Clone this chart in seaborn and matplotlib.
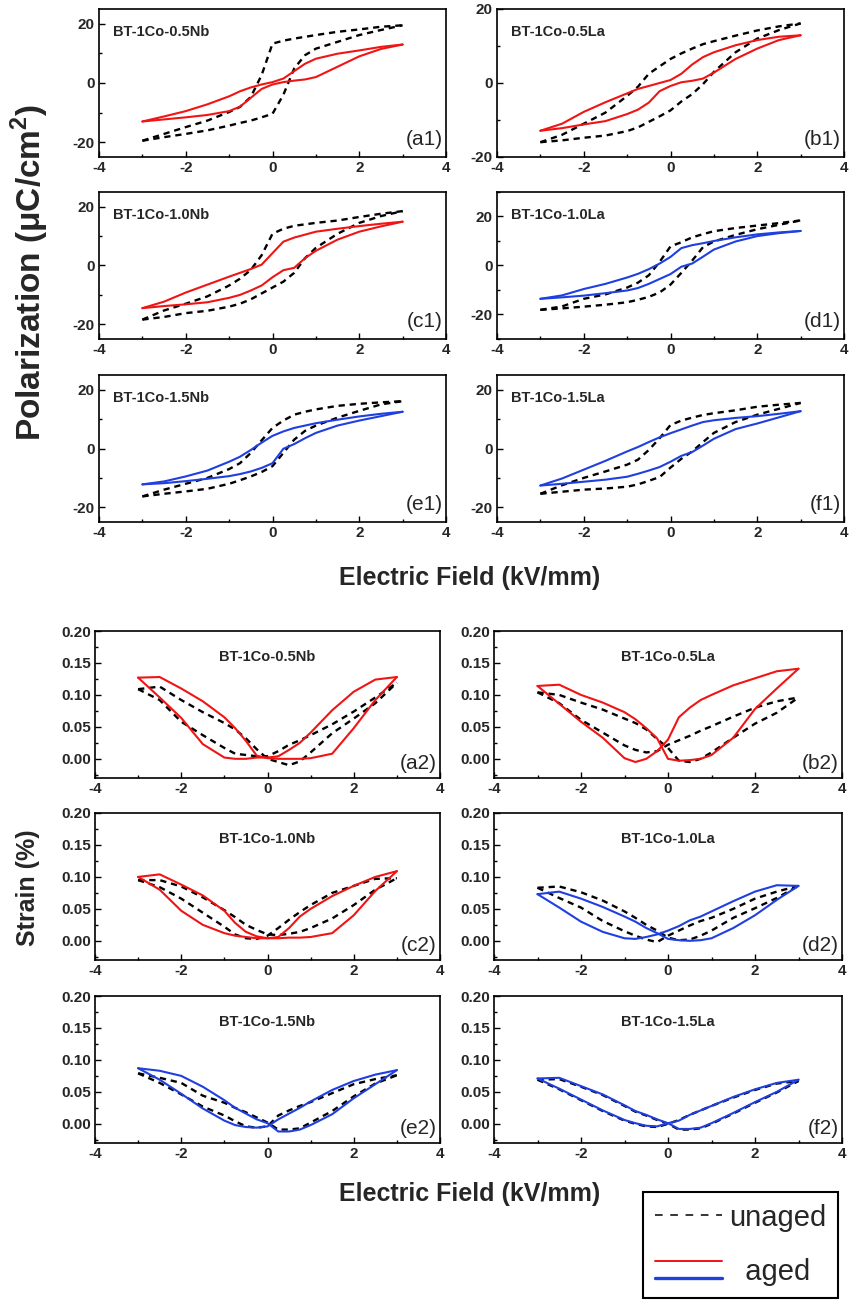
import matplotlib
matplotlib.use('Agg')
import matplotlib.pyplot as plt
import seaborn as sns
from matplotlib.lines import Line2D
from matplotlib.legend_handler import HandlerBase
from matplotlib.ticker import MultipleLocator, FormatStrFormatter

# Campo eléctrico (kV/mm), rejilla común a todas las curvas
E = [-3, -2.5, -2, -1.5, -1, -0.75, -0.5, -0.25, 0, 0.25, 0.5, 0.75, 1, 1.5, 2, 2.5, 3]

# Lazos P-E (uC/cm2): rama superior / rama inferior
pe_a1_unaged_up = [-19.5, -17.2, -14.9, -12.7, -9.8, -8.1, -4.7, 2.7, 13.3, 14.3, 15.0, 15.6, 16.2, 17.3, 18.1, 19.0, 19.5]
pe_a1_unaged_lo = [-19.5, -18.3, -17.2, -16.0, -14.4, -13.5, -12.7, -11.6, -10.4, -4.0, 4.9, 9.4, 11.6, 13.9, 16.2, 17.9, 19.5]
pe_a1_aged_up = [-13.0, -11.3, -9.5, -7.2, -4.5, -2.8, -1.5, -0.5, 0.3, 1.5, 4.0, 6.5, 8.2, 9.9, 11.0, 12.2, 13.0]
pe_a1_aged_lo = [-13.0, -12.3, -11.6, -10.8, -9.5, -8.0, -5.0, -2.0, -0.5, 0.3, 0.8, 1.2, 2.0, 5.5, 9.0, 11.5, 13.0]

pe_b1_unaged_up = [-16.0, -14.0, -11.0, -8.0, -3.5, -1.0, 2.5, 4.5, 6.5, 8.0, 9.3, 10.5, 11.3, 12.8, 14.2, 15.3, 16.1]
pe_b1_unaged_lo = [-16.0, -15.5, -14.8, -14.2, -13.0, -12.0, -10.5, -9.0, -7.4, -5.0, -3.0, -0.3, 3.0, 8.3, 12.0, 14.3, 16.1]
pe_b1_aged_up = [-12.9, -11.0, -7.8, -5.2, -2.8, -1.6, -0.8, 0.0, 0.8, 2.5, 5.0, 7.0, 8.3, 10.2, 11.6, 12.5, 12.9]
pe_b1_aged_lo = [-12.9, -12.2, -11.2, -10.3, -8.4, -7.2, -5.3, -2.2, -0.8, 0.2, 0.6, 1.2, 2.8, 6.5, 9.3, 11.6, 12.9]

pe_c1_unaged_up = [-18.4, -15.3, -13.0, -10.5, -6.8, -4.5, -1.5, 3.5, 10.8, 12.5, 13.5, 14.0, 14.5, 15.3, 16.5, 17.6, 18.5]
pe_c1_unaged_lo = [-18.4, -17.5, -16.2, -15.4, -14.0, -13.0, -11.5, -9.5, -7.5, -5.5, -2.5, 2.5, 6.0, 10.8, 14.5, 16.8, 18.5]
pe_c1_aged_up = [-14.5, -12.3, -9.2, -6.5, -3.8, -2.5, -1.2, 0.3, 4.2, 8.1, 9.5, 10.5, 11.5, 12.5, 13.4, 14.2, 14.9]
pe_c1_aged_lo = [-14.5, -13.8, -13.2, -12.5, -11.0, -10.0, -8.5, -6.8, -4.0, -1.6, -0.8, 2.5, 5.0, 8.8, 11.5, 13.3, 14.9]

pe_d1_unaged_up = [-18.1, -16.7, -13.6, -11.8, -9.0, -7.0, -4.0, 1.5, 7.8, 9.5, 11.5, 12.8, 14.0, 15.3, 16.3, 17.3, 18.4]
pe_d1_unaged_lo = [-18.1, -17.5, -16.8, -16.0, -15.0, -14.0, -12.8, -11.0, -7.8, -3.0, 2.0, 7.5, 9.8, 12.5, 14.8, 16.6, 18.4]
pe_d1_aged_up = [-13.6, -12.2, -9.6, -7.5, -4.9, -3.4, -1.5, 0.8, 3.5, 7.1, 8.3, 9.1, 10.0, 11.5, 12.7, 13.5, 14.1]
pe_d1_aged_lo = [-13.6, -13.0, -12.3, -11.3, -10.2, -9.2, -7.5, -5.5, -3.5, -0.5, 0.8, 3.6, 6.5, 9.8, 12.0, 13.2, 14.1]

pe_e1_unaged_up = [-16.3, -14.0, -12.0, -10.0, -7.0, -5.0, -1.5, 2.8, 7.0, 9.5, 11.5, 12.5, 13.3, 14.5, 15.2, 15.7, 16.1]
pe_e1_unaged_lo = [-16.3, -15.4, -14.6, -13.7, -12.0, -10.8, -9.5, -8.0, -6.0, -1.5, 3.0, 6.0, 7.8, 10.5, 12.8, 15.0, 16.1]
pe_e1_aged_up = [-12.2, -11.2, -9.5, -7.5, -4.5, -2.8, -0.5, 2.0, 4.3, 5.8, 7.0, 7.8, 8.6, 9.8, 10.9, 11.8, 12.5]
pe_e1_aged_lo = [-12.2, -11.8, -11.1, -10.3, -9.4, -8.7, -7.8, -6.6, -5.0, -0.1, 1.5, 3.5, 5.3, 7.8, 9.5, 11.0, 12.5]

pe_f1_unaged_up = [-15.4, -12.5, -10.0, -7.8, -5.5, -3.8, -0.5, 3.5, 8.0, 9.5, 10.5, 11.4, 12.0, 13.0, 14.2, 14.9, 15.5]
pe_f1_unaged_lo = [-15.4, -14.7, -14.0, -13.6, -13.0, -12.2, -11.0, -9.7, -6.5, -3.5, -1.0, 2.2, 5.3, 9.0, 11.5, 13.5, 15.5]
pe_f1_aged_up = [-12.6, -10.2, -7.2, -4.2, -1.0, 0.5, 2.2, 3.8, 5.2, 6.5, 7.8, 9.0, 9.6, 10.4, 11.0, 11.8, 12.7]
pe_f1_aged_lo = [-12.6, -12.0, -11.3, -10.6, -9.6, -8.6, -7.5, -6.3, -4.5, -2.5, -1.2, 1.0, 3.3, 6.6, 8.5, 10.6, 12.7]

# Curvas de deformación (%): rama de campo decreciente / creciente
s_a2_unaged_dec = [0.109, 0.092, 0.058, 0.037, 0.017, 0.008, 0.006, 0.004, 0.004, 0.012, 0.022, 0.029, 0.037, 0.054, 0.074, 0.096, 0.119]
s_a2_unaged_inc = [0.109, 0.113, 0.092, 0.073, 0.056, 0.046, 0.032, 0.015, 0.0, -0.005, -0.010, -0.004, 0.010, 0.040, 0.063, 0.087, 0.119]
s_a2_aged_dec = [0.127, 0.096, 0.064, 0.023, 0.002, 0.0, 0.0, 0.002, 0.002, 0.004, 0.014, 0.025, 0.041, 0.076, 0.105, 0.124, 0.128]
s_a2_aged_inc = [0.127, 0.128, 0.110, 0.090, 0.065, 0.048, 0.028, 0.005, 0.001, 0.0, 0.0, 0.0, 0.001, 0.008, 0.048, 0.092, 0.128]

s_b2_unaged_dec = [0.104, 0.087, 0.061, 0.041, 0.021, 0.014, 0.010, 0.012, 0.022, 0.029, 0.036, 0.044, 0.051, 0.066, 0.080, 0.090, 0.096]
s_b2_unaged_inc = [0.104, 0.100, 0.088, 0.077, 0.063, 0.056, 0.046, 0.031, 0.017, -0.003, -0.005, 0.0, 0.010, 0.033, 0.055, 0.072, 0.096]
s_b2_aged_dec = [0.114, 0.086, 0.058, 0.033, 0.001, -0.005, 0.0, 0.012, 0.030, 0.065, 0.080, 0.092, 0.100, 0.115, 0.126, 0.137, 0.141]
s_b2_aged_inc = [0.114, 0.116, 0.100, 0.088, 0.073, 0.062, 0.048, 0.032, 0.0, -0.003, -0.002, 0.0, 0.006, 0.033, 0.078, 0.110, 0.141]

s_c2_unaged_dec = [0.095, 0.084, 0.066, 0.044, 0.022, 0.010, 0.004, 0.003, 0.008, 0.020, 0.033, 0.045, 0.056, 0.075, 0.086, 0.097, 0.098]
s_c2_unaged_inc = [0.095, 0.095, 0.085, 0.068, 0.048, 0.037, 0.025, 0.017, 0.010, 0.009, 0.011, 0.014, 0.020, 0.035, 0.056, 0.080, 0.098]
s_c2_aged_dec = [0.100, 0.080, 0.047, 0.025, 0.012, 0.008, 0.006, 0.004, 0.004, 0.006, 0.020, 0.038, 0.050, 0.070, 0.086, 0.100, 0.109]
s_c2_aged_inc = [0.100, 0.104, 0.088, 0.071, 0.047, 0.028, 0.014, 0.007, 0.004, 0.004, 0.005, 0.005, 0.006, 0.012, 0.040, 0.078, 0.109]

s_d2_unaged_dec = [0.083, 0.067, 0.052, 0.031, 0.015, 0.008, 0.002, -0.002, 0.008, 0.016, 0.024, 0.031, 0.036, 0.050, 0.066, 0.077, 0.086]
s_d2_unaged_inc = [0.083, 0.085, 0.076, 0.063, 0.046, 0.036, 0.025, 0.016, 0.005, 0.001, 0.002, 0.008, 0.016, 0.036, 0.051, 0.067, 0.086]
s_d2_aged_dec = [0.073, 0.052, 0.030, 0.014, 0.004, 0.003, 0.006, 0.010, 0.016, 0.023, 0.032, 0.038, 0.046, 0.062, 0.077, 0.087, 0.086]
s_d2_aged_inc = [0.073, 0.077, 0.066, 0.053, 0.038, 0.030, 0.020, 0.012, 0.003, 0.001, 0.0, 0.001, 0.004, 0.020, 0.040, 0.064, 0.086]

s_e2_unaged_dec = [0.079, 0.064, 0.046, 0.027, 0.013, 0.004, -0.004, -0.006, -0.004, 0.013, 0.021, 0.028, 0.034, 0.048, 0.062, 0.070, 0.076]
s_e2_unaged_inc = [0.079, 0.072, 0.064, 0.044, 0.033, 0.025, 0.018, 0.010, 0.002, -0.009, -0.009, -0.007, 0.002, 0.020, 0.043, 0.063, 0.076]
s_e2_aged_dec = [0.087, 0.069, 0.047, 0.024, 0.005, -0.002, -0.005, -0.006, -0.004, 0.007, 0.016, 0.025, 0.035, 0.053, 0.067, 0.077, 0.084]
s_e2_aged_inc = [0.087, 0.083, 0.075, 0.058, 0.037, 0.025, 0.016, 0.007, 0.001, -0.012, -0.012, -0.009, -0.002, 0.015, 0.040, 0.062, 0.084]

s_f2_unaged_dec = [0.069, 0.054, 0.037, 0.020, 0.005, 0.0, -0.004, -0.005, 0.0, 0.006, 0.014, 0.021, 0.028, 0.041, 0.053, 0.063, 0.067]
s_f2_unaged_inc = [0.069, 0.070, 0.058, 0.045, 0.028, 0.019, 0.013, 0.006, 0.0, -0.009, -0.009, -0.007, 0.0, 0.016, 0.033, 0.049, 0.067]
s_f2_aged_dec = [0.071, 0.055, 0.038, 0.021, 0.006, 0.001, -0.003, -0.004, 0.001, 0.005, 0.014, 0.021, 0.028, 0.042, 0.054, 0.064, 0.069]
s_f2_aged_inc = [0.071, 0.072, 0.059, 0.046, 0.029, 0.020, 0.014, 0.007, 0.001, -0.008, -0.008, -0.006, 0.001, 0.017, 0.034, 0.050, 0.069]

muestras_pe = ['BT-1Co-0.5Nb', 'BT-1Co-0.5La', 'BT-1Co-1.0Nb', 'BT-1Co-1.0La', 'BT-1Co-1.5Nb', 'BT-1Co-1.5La']
etiquetas_pe = ['(a1)', '(b1)', '(c1)', '(d1)', '(e1)', '(f1)']
etiquetas_s = ['(a2)', '(b2)', '(c2)', '(d2)', '(e2)', '(f2)']
ylims_pe = [(-25, 25), (-20, 20), (-25, 25), (-30, 30), (-25, 25), (-25, 25)]

ROJO = '#f01414'
AZUL = '#1f3fe0'
colores = [ROJO, ROJO, ROJO, AZUL, AZUL, AZUL]

curvas_pe = [
    (pe_a1_unaged_up, pe_a1_unaged_lo, pe_a1_aged_up, pe_a1_aged_lo),
    (pe_b1_unaged_up, pe_b1_unaged_lo, pe_b1_aged_up, pe_b1_aged_lo),
    (pe_c1_unaged_up, pe_c1_unaged_lo, pe_c1_aged_up, pe_c1_aged_lo),
    (pe_d1_unaged_up, pe_d1_unaged_lo, pe_d1_aged_up, pe_d1_aged_lo),
    (pe_e1_unaged_up, pe_e1_unaged_lo, pe_e1_aged_up, pe_e1_aged_lo),
    (pe_f1_unaged_up, pe_f1_unaged_lo, pe_f1_aged_up, pe_f1_aged_lo),
]
curvas_s = [
    (s_a2_unaged_dec, s_a2_unaged_inc, s_a2_aged_dec, s_a2_aged_inc),
    (s_b2_unaged_dec, s_b2_unaged_inc, s_b2_aged_dec, s_b2_aged_inc),
    (s_c2_unaged_dec, s_c2_unaged_inc, s_c2_aged_dec, s_c2_aged_inc),
    (s_d2_unaged_dec, s_d2_unaged_inc, s_d2_aged_dec, s_d2_aged_inc),
    (s_e2_unaged_dec, s_e2_unaged_inc, s_e2_aged_dec, s_e2_aged_inc),
    (s_f2_unaged_dec, s_f2_unaged_inc, s_f2_aged_dec, s_f2_aged_inc),
]

sns.set_theme(style='ticks')
plt.rcParams['font.family'] = ['Liberation Sans', 'DejaVu Sans']
plt.rcParams['font.weight'] = 'bold'
plt.rcParams['axes.unicode_minus'] = False
plt.rcParams['lines.scale_dashes'] = False
plt.rcParams['mathtext.fontset'] = 'custom'
plt.rcParams['mathtext.bf'] = 'Liberation Sans:bold'
plt.rcParams['mathtext.rm'] = 'Liberation Sans'

W, H = 851, 1307
fig = plt.figure(figsize=(W / 100, H / 100), dpi=100)

DASH = (0, (4.5, 3.5))


def caja(x0, y0, x1, y1):
    return fig.add_axes([x0 / W, 1 - y1 / H, (x1 - x0) / W, (y1 - y0) / H])


def estilo(ax):
    for sp in ax.spines.values():
        sp.set_linewidth(1.2)
        sp.set_color('black')
    ax.set_xlim(-4, 4)
    ax.xaxis.set_major_locator(MultipleLocator(2))
    ax.xaxis.set_minor_locator(MultipleLocator(1))
    ax.tick_params(which='both', direction='in', color='black', width=1,
                   labelsize=11, pad=3)
    ax.tick_params(which='major', length=4)
    ax.tick_params(which='minor', length=2.5)
    ax.set_xlabel('')
    ax.set_ylabel('')


def dibujar(ax, c, color):
    for y in c[:2]:
        sns.lineplot(x=E, y=y, ax=ax, sort=False, estimator=None,
                     color='black', lw=1.7, linestyle=DASH)
    for y in c[2:]:
        sns.lineplot(x=E, y=y, ax=ax, sort=False, estimator=None,
                     color=color, lw=1.5)


# Filas P-E
col_pe = [(99, 446), (497, 844)]
fil_pe = [(9, 157), (192, 339), (375, 522)]
for i in range(6):
    (x0, x1), (y0, y1) = col_pe[i % 2], fil_pe[i // 2]
    ax = caja(x0, y0, x1, y1)
    dibujar(ax, curvas_pe[i], colores[i])
    estilo(ax)
    ax.set_ylim(*ylims_pe[i])
    ax.yaxis.set_major_locator(MultipleLocator(20))
    ax.yaxis.set_minor_locator(MultipleLocator(10))
    ax.text(0.04, 0.845, muestras_pe[i], transform=ax.transAxes,
            fontsize=10.5, fontweight='bold', ha='left', va='center')
    ax.text(0.99, 0.12, etiquetas_pe[i], transform=ax.transAxes,
            fontsize=15, fontweight='normal', ha='right', va='center')

# Filas de deformación
col_s = [(95, 440), (494, 842)]
fil_s = [(631, 778), (813, 960), (996, 1143)]
for i in range(6):
    (x0, x1), (y0, y1) = col_s[i % 2], fil_s[i // 2]
    ax = caja(x0, y0, x1, y1)
    dibujar(ax, curvas_s[i], colores[i])
    estilo(ax)
    ax.set_ylim(-0.03, 0.20)
    ax.yaxis.set_major_locator(MultipleLocator(0.05))
    ax.yaxis.set_minor_locator(MultipleLocator(0.025))
    ax.yaxis.set_major_formatter(FormatStrFormatter('%.2f'))
    ax.text(0.5, 0.82, muestras_pe[i], transform=ax.transAxes,
            fontsize=10.5, fontweight='bold', ha='center', va='center')
    ax.text(0.99, 0.1, etiquetas_s[i], transform=ax.transAxes,
            fontsize=15, fontweight='normal', ha='right', va='center')

fig.text(30 / W, 1 - 272 / H, r'Polarization (μC/cm$^\mathbf{2}$)', rotation=90,
         fontsize=24, fontweight='bold', ha='center', va='center')
fig.text(470 / W, 1 - 578 / H, 'Electric Field (kV/mm)',
         fontsize=18, fontweight='bold', ha='center', va='center')
fig.text(28 / W, 1 - 888 / H, 'Strain (%)', rotation=90,
         fontsize=18, fontweight='bold', ha='center', va='center')
fig.text(470 / W, 1 - 1194 / H, 'Electric Field (kV/mm)',
         fontsize=18, fontweight='bold', ha='center', va='center')


class DosLineas(HandlerBase):
    def create_artists(self, legend, orig_handle, xdescent, ydescent,
                       width, height, fontsize, trans):
        out = []
        for k, h in enumerate(orig_handle):
            y = height / 2 - ydescent + (0.3 - 0.6 * k) * fontsize
            ln = Line2D([-xdescent, width - xdescent], [y, y],
                        color=h.get_color(), lw=h.get_linewidth(), transform=trans)
            out.append(ln)
        return out


h_un = Line2D([], [], color='black', lw=1.1, linestyle=(0, (5.5, 5.5)))
h_red = Line2D([], [], color=ROJO, lw=1.4)
h_blue = Line2D([], [], color=AZUL, lw=2.4)
leg = fig.legend(handles=[h_un, (h_red, h_blue)], labels=['unaged', '  aged'],
                 handler_map={tuple: DosLineas()}, loc='upper left',
                 bbox_to_anchor=(643 / W, 1 - 1192 / H), borderaxespad=0,
                 frameon=True, fancybox=False, edgecolor='black', framealpha=1,
                 prop={'size': 21, 'weight': 'normal'}, handlelength=2.3,
                 handletextpad=0.25, labelspacing=0.9, borderpad=0.4)
leg.get_frame().set_linewidth(1.5)

fig.savefig('out.png', dpi=100)
